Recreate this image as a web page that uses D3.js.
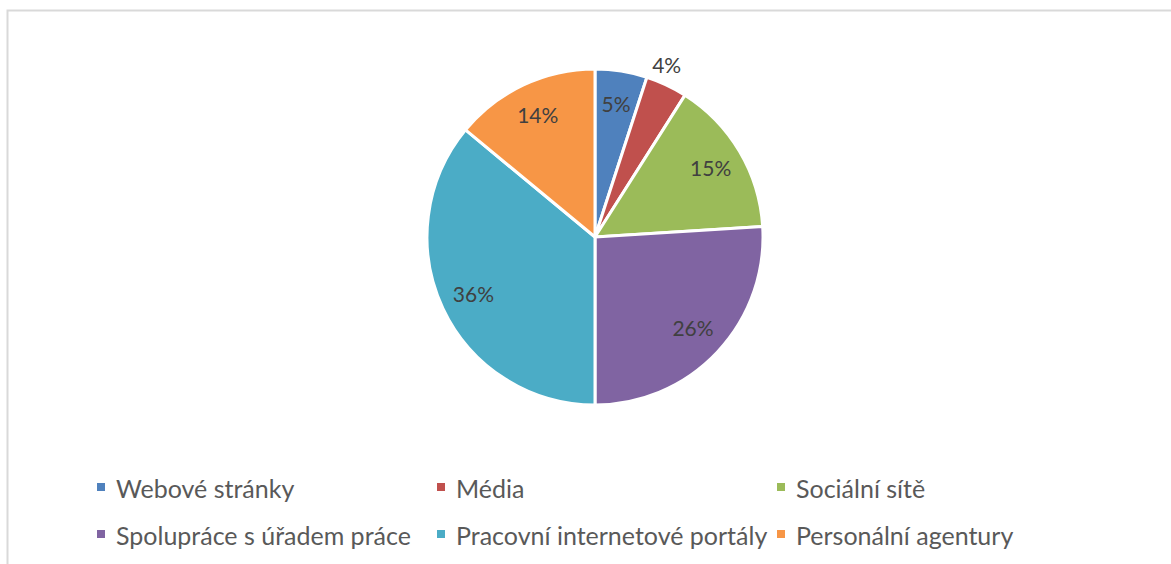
<!DOCTYPE html>
<html>
<head>
<meta charset="utf-8">
<script src="https://cdn.jsdelivr.net/npm/d3@7"></script>
<style>
  body { margin: 0; background: #fff; }
  #chart { width: 1171px; height: 564px; }
</style>
</head>
<body>
<div id="chart"></div>
<script>
// data
const categories = ["Webové stránky", "Média", "Sociální sítě", "Spolupráce s úřadem práce", "Pracovní internetové portály", "Personální agentury"];
const values = [5, 4, 15, 26, 36, 14];
const colors = ["#4f81bd", "#c0504d", "#9bbb59", "#8064a2", "#4bacc6", "#f79646"];

const W = 1171, H = 564;
const cx = 595, cy = 237, R = 168;

const svg = d3.select("#chart")
    .append("svg")
    .attr("width", W)
    .attr("height", H);

// chart area border (only top & left visible in the crop)
svg.append("rect")
    .attr("x", 7.5)
    .attr("y", 10.5)
    .attr("width", W + 20)
    .attr("height", H + 20)
    .attr("fill", "none")
    .attr("stroke", "#d9d9d9")
    .attr("stroke-width", 2);

const data = categories.map((c, i) => ({name: c, value: values[i], color: colors[i]}));

const pie = d3.pie().value(d => d.value).sort(null);
const arcs = pie(data);

const arc = d3.arc().innerRadius(0).outerRadius(R);
const labelArc = d3.arc().innerRadius(R * 0.8).outerRadius(R * 0.8);
const outArc = d3.arc().innerRadius(R * 1.1).outerRadius(R * 1.1);

const g = svg.append("g").attr("transform", `translate(${cx},${cy})`);

g.selectAll(".slice")
    .data(arcs)
    .enter()
    .append("path")
    .attr("class", "slice")
    .attr("d", arc)
    .attr("fill", d => d.data.color)
    .attr("stroke", "#fff")
    .attr("stroke-width", 3)
    .attr("stroke-linejoin", "round");

// small slices get their label outside the pie
g.selectAll(".lbl")
    .data(arcs)
    .enter()
    .append("text")
    .attr("class", "lbl")
    .attr("transform", d => {
        if (d.data.value < 5) {
            const p = outArc.centroid(d);
            return `translate(${p[0] - 7},${p[1] - 4})`;
        }
        return `translate(${labelArc.centroid(d)})`;
    })
    .attr("text-anchor", "middle")
    .attr("dy", "0.35em")
    .style("font-family", "Lato, 'Open Sans', sans-serif")
    .style("font-size", "21px")
    .style("fill", "#404040")
    .text(d => d.data.value + "%");

// legend: 3 columns x 2 rows
const legend = svg.append("g");
const colX = [97, 437, 777];
const rowY = [489, 536];

const item = legend.selectAll(".leg")
    .data(data)
    .enter()
    .append("g")
    .attr("class", "leg")
    .attr("transform", (d, i) => `translate(${colX[i % 3]},${rowY[Math.floor(i / 3)]})`);

item.append("rect")
    .attr("x", 0)
    .attr("y", -6)
    .attr("width", 8)
    .attr("height", 8)
    .attr("fill", d => d.color);

item.append("text")
    .attr("x", 19)
    .attr("y", 0)
    .attr("dy", "0.35em")
    .style("font-family", "Lato, 'Open Sans', sans-serif")
    .style("font-size", "25px")
    .style("fill", "#595959")
    .text(d => d.name);
</script>
</body>
</html>
